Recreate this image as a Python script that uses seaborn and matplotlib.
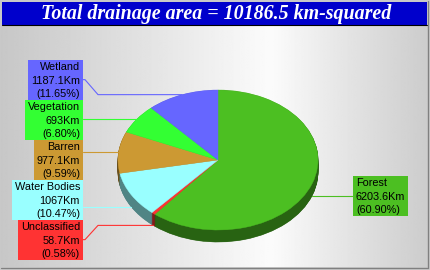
import numpy as np
import matplotlib
matplotlib.use("Agg")
import matplotlib.pyplot as plt
import matplotlib.transforms as mtransforms
from matplotlib.colors import to_rgb
from matplotlib.patches import Rectangle
import seaborn as sns

# ---------------- data ----------------
categories = ["Forest", "Unclassified", "Water Bodies", "Barren", "Vegetation", "Wetland"]
areas_km = [6203.6, 58.7, 1067, 977.1, 693, 1187.1]
slice_colors = ["#4cbf22", "#ff3333", "#99ffff", "#cc9933", "#33ff33", "#6666ff"]
title_template = "Total drainage area = {total:g} km-squared"

# ---------------- style ----------------
sns.set_style("white")
plt.rcParams["font.family"] = ["Liberation Sans", "DejaVu Sans"]
palette = sns.color_palette(slice_colors)

W, H = 430, 270
fig = plt.figure(figsize=(W / 100, H / 100), dpi=100)
fig.patch.set_facecolor("#c8c8c8")
PX = mtransforms.Affine2D().scale(1 / W, -1 / H).translate(0, 1) + fig.transFigure

# background / frame
bg = fig.add_axes([0, 0, 1, 1], zorder=0)
xs = np.arange(W)
shade = np.interp(xs, [0, 272, W], [0.78, 0.985, 0.80])
bg.imshow(np.tile(shade, (2, 1)), cmap="gray", vmin=0, vmax=1,
          extent=(1, 427, 267, 25), aspect="auto", interpolation="bilinear")
bg.set_xlim(0, W)
bg.set_ylim(H, 0)
bg.axis("off")
bg.add_patch(Rectangle((2, 2), 425, 22.5, facecolor="#0000cc", edgecolor="none"))
bg.plot([2, 427], [24.5, 24.5], color="black", lw=0.8)
bg.plot([427.5, 427.5], [1, 268], color="#808080", lw=0.9)
bg.plot([1, 428], [267.5, 267.5], color="#808080", lw=0.9)
total = round(sum(areas_km), 1)
bg.text(216.5, 13.5, title_template.format(total=total), color="white",
        fontsize=14.4, fontfamily="Liberation Serif", fontweight="bold",
        fontstyle="italic", ha="center", va="center")

# ---------------- 3D pie ----------------
cx, cy, rx, ry, depth = 218, 160, 100, 70, 12
ax = fig.add_axes([0, 0, 1, 1], zorder=1)
ax.patch.set_alpha(0)
dark = [tuple(c * 0.52 for c in to_rgb(col)) for col in palette]
n_layers = 24
for k in range(n_layers, 0, -1):
    off = depth / ry * k / n_layers
    wedges, _ = ax.pie(areas_km, colors=dark, startangle=90, counterclock=False,
                       radius=1, center=(0, -off), wedgeprops=dict(linewidth=0.4))
    for w in wedges:
        w.set_edgecolor(w.get_facecolor())
top, _ = ax.pie(areas_km, colors=palette, startangle=90, counterclock=False,
                radius=1, center=(0, 0), wedgeprops=dict(linewidth=0.3))
for w in top:
    w.set_edgecolor(w.get_facecolor())
ax.set_aspect("auto")
ax.set_xlim(-cx / rx, (W - cx) / rx)
ax.set_ylim((cy - H) / ry, cy / ry)
ax.axis("off")

# ---------------- labels ----------------
renderer = fig.canvas.get_renderer()
BOX_H = 40
LINE_H = 13.5


def spread(desired, h):
    order = np.argsort(desired)
    clusters = []
    for i in order:
        clusters.append([[i], desired[i] - h / 2])
        while len(clusters) > 1:
            a, b = clusters[-2], clusters[-1]
            if a[1] + len(a[0]) * h > b[1]:
                idx = a[0] + b[0]
                mean = np.mean([desired[j] for j in idx])
                clusters[-2:] = [[idx, mean - len(idx) * h / 2]]
            else:
                break
    tops = {}
    for idx, t in clusters:
        for n, j in enumerate(idx):
            tops[j] = t + n * h
    return tops


anchors = []
for w in top:
    mid = np.deg2rad((w.theta1 + w.theta2) / 2)
    x, y = np.cos(mid), np.sin(mid)
    ax_px = cx + rx * x
    ay_px = cy - ry * y + (depth if y < 0 else 0)
    anchors.append((ax_px, ay_px, x > 0))

left_idx = [i for i, a in enumerate(anchors) if not a[2]]
right_idx = [i for i, a in enumerate(anchors) if a[2]]
tops = {}
for group in (left_idx, right_idx):
    if group:
        t = spread([anchors[i][1] for i in group], BOX_H)
        for k, i in enumerate(group):
            tops[i] = t[k]

left_edge = cx - rx - 35
right_edge = cx + rx + 35
for i, name in enumerate(categories):
    val = areas_km[i]
    pct = val / sum(areas_km) * 100
    lines = [name, f"{val:g}Km", f"({pct:.2f}%)"]
    is_right = anchors[i][2]
    btop = tops[i]
    texts = []
    for n, s in enumerate(lines):
        tx = right_edge + 3 if is_right else left_edge - 3
        t = ax.text(tx, btop + 10.5 + LINE_H * n, s, transform=PX, fontsize=7.8,
                    ha="left" if is_right else "right", va="baseline",
                    color="black", zorder=5)
        texts.append(t)
    wmax = max(t.get_window_extent(renderer).width for t in texts)
    bw = wmax + 6
    bx = right_edge if is_right else left_edge - bw
    ax.add_patch(Rectangle((bx, btop), bw, BOX_H, transform=PX,
                           facecolor=palette[i], edgecolor="none", zorder=4))
    # leader line
    axp, ayp, _ = anchors[i]
    edge = right_edge if is_right else left_edge
    sgn = 1 if is_right else -1
    if btop + 10 <= ayp <= btop + BOX_H - 10:
        xs_l, ys_l = [edge, axp], [ayp, ayp]
    else:
        bc = btop + BOX_H / 2
        xs_l = [edge, edge - sgn * 2, edge - sgn * 15, axp]
        ys_l = [bc, bc, ayp, ayp]
    ax.plot(xs_l, ys_l, transform=PX, color=palette[i], lw=0.8, zorder=3)

fig.savefig("out.png", dpi=100)
